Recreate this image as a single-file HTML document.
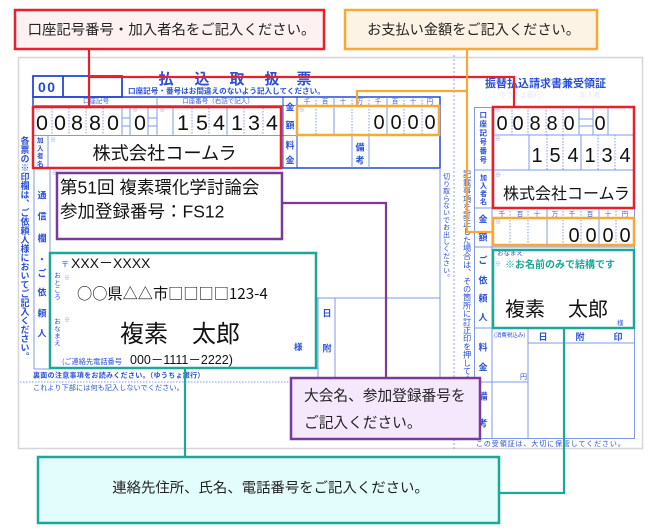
<!DOCTYPE html>
<html><head><meta charset="utf-8">
<style>
html,body{margin:0;padding:0;background:#fff;}
#c{position:relative;width:668px;height:528px;overflow:hidden;background:#fff;font-family:"Liberation Sans","Noto Sans CJK JP",sans-serif;}
svg{position:absolute;left:0;top:0;}
.v{position:absolute;writing-mode:vertical-rl;white-space:nowrap;color:#2a50d8;font-family:"Noto Sans CJK JP",sans-serif;line-height:1;font-weight:bold;}
</style></head><body><div id="c">
<svg width="668" height="528" viewBox="0 0 668 528" font-family="'Liberation Sans','Noto Sans CJK JP',sans-serif">
<rect x="18.5" y="57.5" width="624" height="391" fill="#fff" stroke="#d6d6d6" stroke-width="1.5"/>
<line x1="454" y1="55" x2="454" y2="449" stroke="#8aa2ee" stroke-width="1" stroke-dasharray="2,2"/>

<!-- left title -->
<g fill="#2a50d8" font-size="15" font-weight="bold" text-anchor="middle" font-family="'Noto Sans CJK JP',sans-serif">
<text x="166" y="84">払</text><text x="202" y="84">込</text><text x="237" y="84">取</text><text x="272" y="84">扱</text><text x="304" y="84">票</text>
</g>
<text x="128" y="93.5" font-size="7.6" fill="#2a50d8" font-weight="bold" font-family="'Noto Sans CJK JP',sans-serif">口座記号・番号はお間違えのないよう記入してください。</text>

<!-- 00 box -->
<g stroke="#2448d6" stroke-width="1.8" fill="none">
<rect x="33" y="76" width="89" height="21"/>
<line x1="63" y1="76" x2="63" y2="97"/>
<rect x="33" y="97" width="407" height="71" stroke-width="1.5"/>
</g>
<text x="38" y="92" font-size="14" font-weight="bold" fill="#2448d6" letter-spacing="1.5">00</text>

<!-- left table lines -->
<g stroke="#7f98ea" stroke-width="1" fill="none">
<line x1="33" y1="105.5" x2="440" y2="105.5"/>
<line x1="157" y1="97" x2="157" y2="105"/>
<line x1="33" y1="135.5" x2="440" y2="135.5"/>
<line x1="283" y1="97" x2="283" y2="168" stroke="#2448d6"/>
<line x1="297" y1="97" x2="297" y2="168" stroke="#2448d6"/>
<line x1="48" y1="135" x2="48" y2="168"/>
<line x1="122" y1="105" x2="122" y2="135"/>
<line x1="130" y1="105" x2="130" y2="135"/>
<line x1="148" y1="105" x2="148" y2="135"/>
<line x1="157" y1="105" x2="157" y2="135"/>
<line x1="173" y1="105" x2="173" y2="135"/>
<line x1="227" y1="105" x2="227" y2="135"/>
<line x1="334" y1="97" x2="334" y2="135"/>
<line x1="387" y1="97" x2="387" y2="135"/>
<line x1="352" y1="135" x2="352" y2="168"/>
<line x1="369" y1="135" x2="369" y2="168"/>
<line x1="122" y1="118" x2="130" y2="118"/><line x1="122" y1="126" x2="130" y2="126"/>
<line x1="148" y1="118" x2="157" y2="118"/><line x1="148" y1="126" x2="157" y2="126"/>
<!-- 通信欄 -->
<line x1="34" y1="168" x2="34" y2="369"/>
<line x1="50" y1="168" x2="50" y2="369"/>
<line x1="34" y1="369" x2="50" y2="369"/>
<line x1="316" y1="298" x2="440" y2="298"/>
<line x1="318" y1="298" x2="318" y2="378"/>
<line x1="335" y1="298" x2="335" y2="378"/>
<line x1="440" y1="168" x2="440" y2="378"/>
</g>
<g stroke="#7f98ea" stroke-width="1" stroke-dasharray="1.5,1.5" fill="none">
<line x1="52" y1="105" x2="52" y2="135"/>
<line x1="69" y1="105" x2="69" y2="135"/>
<line x1="86" y1="105" x2="86" y2="135"/>
<line x1="103" y1="105" x2="103" y2="135"/>
<line x1="192" y1="105" x2="192" y2="135"/>
<line x1="209" y1="105" x2="209" y2="135"/>
<line x1="244" y1="105" x2="244" y2="135"/>
<line x1="263" y1="105" x2="263" y2="135"/>
<line x1="316" y1="97" x2="316" y2="135"/>
<line x1="352" y1="97" x2="352" y2="135"/>
<line x1="369" y1="97" x2="369" y2="135"/>
<line x1="404" y1="97" x2="404" y2="135"/>
<line x1="422" y1="97" x2="422" y2="135"/>
<line x1="20" y1="382" x2="440" y2="382"/>
</g>

<!-- left header tiny labels -->
<g fill="#3a5ee0" font-size="6.5" text-anchor="middle" font-family="'Noto Sans CJK JP',sans-serif">
<text x="96" y="103">口座記号</text>
<text x="218" y="103">口座番号（右詰で記入）</text>
<text x="307" y="103.5">千</text><text x="325" y="103.5">百</text><text x="343" y="103.5">十</text><text x="360" y="103.5">万</text>
<text x="378" y="103.5">千</text><text x="395" y="103.5">百</text><text x="413" y="103.5">十</text><text x="430" y="103.5">円</text>
<text x="502" y="216">千</text><text x="520" y="216">百</text><text x="537" y="216">十</text><text x="555" y="216">万</text>
<text x="572" y="216">千</text><text x="590" y="216">百</text><text x="608" y="216">十</text><text x="625" y="216">円</text>
</g>
<g fill="#7f98ea" font-size="6" font-family="'Noto Sans CJK JP',sans-serif">
<text x="35" y="112">※</text><text x="132" y="112">※</text><text x="159" y="112">※</text><text x="299" y="112">※</text>
<text x="50" y="142">※</text><text x="52" y="175">※</text><text x="64" y="280">※</text><text x="64" y="322">※</text>
<text x="495" y="112">※</text><text x="495" y="141">※</text><text x="495" y="177">※</text><text x="495" y="224">※</text><text x="495" y="266">※</text>
</g>

<!-- left labels -->
<g fill="#2a50d8" font-size="9" font-weight="bold" text-anchor="middle" font-family="'Noto Sans CJK JP',sans-serif">
<text x="290" y="110.5">金</text><text x="290" y="128.5">額</text>
<text x="290" y="148.5">料</text><text x="290" y="163.5">金</text>
<text x="360" y="150.5">備</text><text x="360" y="163.5">考</text>
<text x="327" y="316.5">日</text><text x="327" y="351.5">附</text>
<text x="42" y="198.5">通</text><text x="42" y="219.5">信</text><text x="42" y="241.5">欄</text><text x="42" y="262.5">・</text>
<text x="42" y="276.5">ご</text><text x="42" y="295.5">依</text><text x="42" y="316.5">頼</text><text x="42" y="336.5">人</text>
<!-- right labels -->
<text x="483" y="222.5">金</text><text x="483" y="240.5">額</text>
<text x="483" y="263.5">ご</text><text x="483" y="283.5">依</text><text x="483" y="301.5">頼</text><text x="483" y="320.5">人</text>
<text x="483" y="350.5">料</text><text x="483" y="370.5">金</text>
<text x="483" y="399.5">備</text><text x="483" y="426.5">考</text>
<text x="543" y="340">日</text><text x="580" y="340">附</text><text x="618" y="340">印</text>
</g>

<!-- left digits -->
<g font-size="21.5" text-anchor="middle" fill="#111" font-family="'Liberation Sans',sans-serif">
<text x="42" y="130">0</text><text x="60" y="130">0</text><text x="77" y="130">8</text><text x="95" y="130">8</text><text x="113" y="130">0</text>
<text x="140" y="130">0</text>
<text x="183" y="130">1</text><text x="202" y="130">5</text><text x="219" y="130">4</text><text x="237" y="130">1</text><text x="254" y="130">3</text><text x="272" y="130">4</text>
</g>
<g font-size="20" text-anchor="middle" fill="#111" font-family="'Liberation Sans',sans-serif">
<text x="379" y="129">0</text><text x="396" y="129">0</text><text x="413" y="129">0</text><text x="430" y="129">0</text>
<text x="502" y="130">0</text><text x="518" y="130">0</text><text x="535" y="130">8</text><text x="552" y="130">8</text><text x="569" y="130">0</text>
<text x="600" y="130">0</text>
<text x="537" y="162">1</text><text x="555" y="162">5</text><text x="573" y="162">4</text><text x="590" y="162">1</text><text x="607" y="162">3</text><text x="625" y="162">4</text>
<text x="574" y="242">0</text><text x="591" y="242">0</text><text x="608" y="242">0</text><text x="625" y="242">0</text>
</g>

<text x="164.5" y="159.5" font-size="18.2" text-anchor="middle" fill="#111" font-family="'Noto Sans CJK JP',sans-serif">株式会社コームラ</text>
<text x="60" y="193.5" font-size="17.5" fill="#111" font-family="'Liberation Sans','Noto Sans CJK JP',sans-serif">第51回 複素環化学討論会</text>
<text x="60" y="217.5" font-size="17.5" fill="#111" font-family="'Liberation Sans','Noto Sans CJK JP',sans-serif">参加登録番号：FS12</text>

<text x="61" y="267" font-size="8" fill="#2a50d8" font-family="'Noto Sans CJK JP',sans-serif">〒</text>
<text x="71" y="268" font-size="14" fill="#111" font-family="'Liberation Sans','Noto Sans CJK JP',sans-serif">XXX－XXXX</text>
<text x="77" y="299" font-size="15.2" fill="#111" font-family="'Noto Sans CJK JP',sans-serif">○○県△△市□□□□123-4</text>
<text x="120" y="342" font-size="24" fill="#111" font-family="'Noto Sans CJK JP',sans-serif">複素</text>
<text x="192" y="342" font-size="24" fill="#111" font-family="'Noto Sans CJK JP',sans-serif">太郎</text>
<text x="294" y="350" font-size="8.5" fill="#2a50d8" font-weight="bold" font-family="'Noto Sans CJK JP',sans-serif">様</text>
<text x="62" y="364" font-size="7.2" fill="#2a50d8" font-family="'Noto Sans CJK JP',sans-serif">(ご連絡先電話番号</text>
<text x="130" y="364" font-size="12.5" fill="#111" font-family="'Liberation Sans','Noto Sans CJK JP',sans-serif">000－1111－2222)</text>

<text x="33" y="377.5" font-size="7" fill="#2a50d8" font-weight="bold" font-family="'Noto Sans CJK JP',sans-serif" letter-spacing="0.3">裏面の注意事項をお読みください。（ゆうちょ銀行）</text>
<text x="33" y="390" font-size="7" fill="#2a50d8" font-family="'Noto Sans CJK JP',sans-serif" letter-spacing="0.2">これより下部には何も記入しないでください。</text>

<!-- right form -->
<text x="485" y="87" font-size="11" font-weight="bold" fill="#2a50d8" font-family="'Noto Sans CJK JP',sans-serif">振替払込請求書兼受領証</text>
<text x="492" y="97" font-size="7" fill="#e4e8f4" font-family="'Noto Sans CJK JP',sans-serif">（ゆうちょ銀行）　　　　　加入者</text>
<g stroke="#7f98ea" stroke-width="1" fill="none">
<rect x="474.5" y="107.5" width="160" height="331"/>
<line x1="492" y1="107" x2="492" y2="438"/>
<line x1="474" y1="170" x2="634" y2="170"/>
<line x1="474" y1="208" x2="634" y2="208"/>
<line x1="474" y1="247" x2="634" y2="247"/>
<line x1="474" y1="328" x2="634" y2="328"/>
<line x1="474" y1="382" x2="528" y2="382"/>
<line x1="528" y1="328" x2="528" y2="438"/>
<line x1="528" y1="343" x2="634" y2="343"/>
<line x1="492" y1="135" x2="634" y2="135"/>
<line x1="492" y1="218" x2="634" y2="218"/>
<line x1="579" y1="107" x2="579" y2="135"/>
<line x1="593" y1="107" x2="593" y2="135"/>
<line x1="608" y1="107" x2="608" y2="135"/>
<line x1="579" y1="119" x2="593" y2="119"/><line x1="579" y1="126" x2="593" y2="126"/>
<line x1="529" y1="135" x2="529" y2="170"/>
<line x1="581" y1="135" x2="581" y2="170"/>
<line x1="547" y1="208" x2="547" y2="247"/>
<line x1="599" y1="208" x2="599" y2="247"/>
</g>
<g stroke="#7f98ea" stroke-width="1" stroke-dasharray="1.5,1.5" fill="none">
<line x1="512" y1="107" x2="512" y2="135"/>
<line x1="528" y1="107" x2="528" y2="135"/>
<line x1="546" y1="107" x2="546" y2="135"/>
<line x1="563" y1="107" x2="563" y2="135"/>
<line x1="547" y1="135" x2="547" y2="170"/>
<line x1="563" y1="135" x2="563" y2="170"/>
<line x1="598" y1="135" x2="598" y2="170"/>
<line x1="615" y1="135" x2="615" y2="170"/>
<line x1="510" y1="208" x2="510" y2="247"/>
<line x1="528" y1="208" x2="528" y2="247"/>
<line x1="563" y1="208" x2="563" y2="247"/>
<line x1="581" y1="208" x2="581" y2="247"/>
<line x1="616" y1="208" x2="616" y2="247"/>
</g>
<text x="503" y="199" font-size="16" fill="#111" font-family="'Noto Sans CJK JP',sans-serif">株式会社コームラ</text>
<text x="497" y="255" font-size="6.5" fill="#2a50d8" font-family="'Noto Sans CJK JP',sans-serif">おなまえ</text>
<text x="505" y="268" font-size="10" font-weight="bold" fill="#19a898" font-family="'Noto Sans CJK JP',sans-serif">※お名前のみで結構です</text>
<text x="505" y="316" font-size="20" fill="#111" font-family="'Noto Sans CJK JP',sans-serif">複素</text>
<text x="568" y="316" font-size="20" fill="#111" font-family="'Noto Sans CJK JP',sans-serif">太郎</text>
<text x="617" y="325" font-size="6.5" fill="#2a50d8" font-family="'Noto Sans CJK JP',sans-serif">様</text>
<text x="494" y="337" font-size="5.5" fill="#2a50d8" font-family="'Noto Sans CJK JP',sans-serif">(消費税込み)</text>
<text x="520" y="379" font-size="7" fill="#2a50d8" font-family="'Noto Sans CJK JP',sans-serif">円</text>
<text x="476" y="446" font-size="7" fill="#2a50d8" letter-spacing="0.9" font-family="'Noto Sans CJK JP',sans-serif">この受領証は、大切に保管してください。</text>
</svg>

<div class="v" style="left:20.5px;top:136px;font-size:9px;">各票の※印欄は、ご依頼人様においてご記入ください。</div>
<div class="v" style="left:36.7px;top:137px;font-size:6.5px;letter-spacing:1.2px;">加入者名</div>
<div class="v" style="left:54px;top:272px;font-size:6.5px;letter-spacing:0.6px;font-weight:normal;">おところ</div>
<div class="v" style="left:54px;top:318px;font-size:6.5px;letter-spacing:0.6px;font-weight:normal;">おなまえ</div>
<div class="v" style="left:442.5px;top:173px;font-size:7px;letter-spacing:0.2px;font-weight:normal;">切り取らないでお出しください。</div>
<div class="v" style="left:462.9px;top:170px;font-size:8.2px;font-weight:normal;">記載事項を訂正した場合は、その箇所に訂正印を押してください。</div>
<div class="v" style="left:479.2px;top:111px;font-size:7.5px;letter-spacing:1.5px;">口座記号番号</div>
<div class="v" style="left:479.5px;top:174px;font-size:7px;letter-spacing:1px;">加入者名</div>

<svg width="668" height="528" viewBox="0 0 668 528" font-family="'Liberation Sans','Noto Sans CJK JP',sans-serif">
<!-- red -->
<g fill="none" stroke="#e8202a">
<path d="M89,49 V107 M89,77 H514 V107" stroke-width="2.2"/>
<rect x="33" y="107" width="248" height="61" stroke-width="2.5"/>
<rect x="493" y="107" width="141" height="101" stroke-width="2.5"/>
</g>
<rect x="15" y="10" width="309" height="39" fill="#fdf1f1" stroke="#e8202a" stroke-width="2.5"/>
<text x="171.5" y="34.5" font-size="14.4" text-anchor="middle" fill="#222" font-family="'Noto Sans CJK JP',sans-serif">口座記号番号・加入者名をご記入ください。</text>

<!-- orange -->
<g fill="none" stroke="#f7a935">
<path d="M467,49 V232 H493 M467,91 H357 V106" stroke-width="2.2"/>
<rect x="297" y="106" width="142" height="29" stroke-width="2.5"/>
<rect x="493" y="218" width="141" height="27" stroke-width="2.5"/>
</g>
<rect x="345" y="10" width="252" height="39" fill="#fdf3e4" stroke="#f7a935" stroke-width="2.5"/>
<text x="473.5" y="34.5" font-size="14.2" text-anchor="middle" fill="#222" font-family="'Noto Sans CJK JP',sans-serif">お支払い金額をご記入ください。</text>

<!-- purple -->
<g fill="none" stroke="#7b3a9a">
<path d="M282,203 H386 V378" stroke-width="2.2"/>
<rect x="57" y="173" width="225" height="66" stroke-width="2.5"/>
</g>
<rect x="291" y="378" width="189" height="61" fill="#f5e8fc" stroke="#7b3a9a" stroke-width="2.5"/>
<text x="304" y="400.5" font-size="14.7" fill="#222" font-family="'Noto Sans CJK JP',sans-serif">大会名、参加登録番号を</text>
<text x="304" y="427.5" font-size="14.7" fill="#222" font-family="'Noto Sans CJK JP',sans-serif">ご記入ください。</text>

<!-- teal -->
<g fill="none" stroke="#1aa899">
<path d="M185,368 V457 M564,328 V493 H499" stroke-width="2.2"/>
<rect x="50" y="253" width="266" height="115" stroke-width="2.5"/>
<rect x="493" y="250" width="141" height="78" stroke-width="2.5"/>
</g>
<rect x="38" y="457" width="461" height="66" fill="#e2fdfb" stroke="#1aa899" stroke-width="2.5"/>
<text x="270.5" y="492.5" font-size="14.4" text-anchor="middle" fill="#222" font-family="'Noto Sans CJK JP',sans-serif">連絡先住所、氏名、電話番号をご記入ください。</text>
</svg>
</div></body></html>
